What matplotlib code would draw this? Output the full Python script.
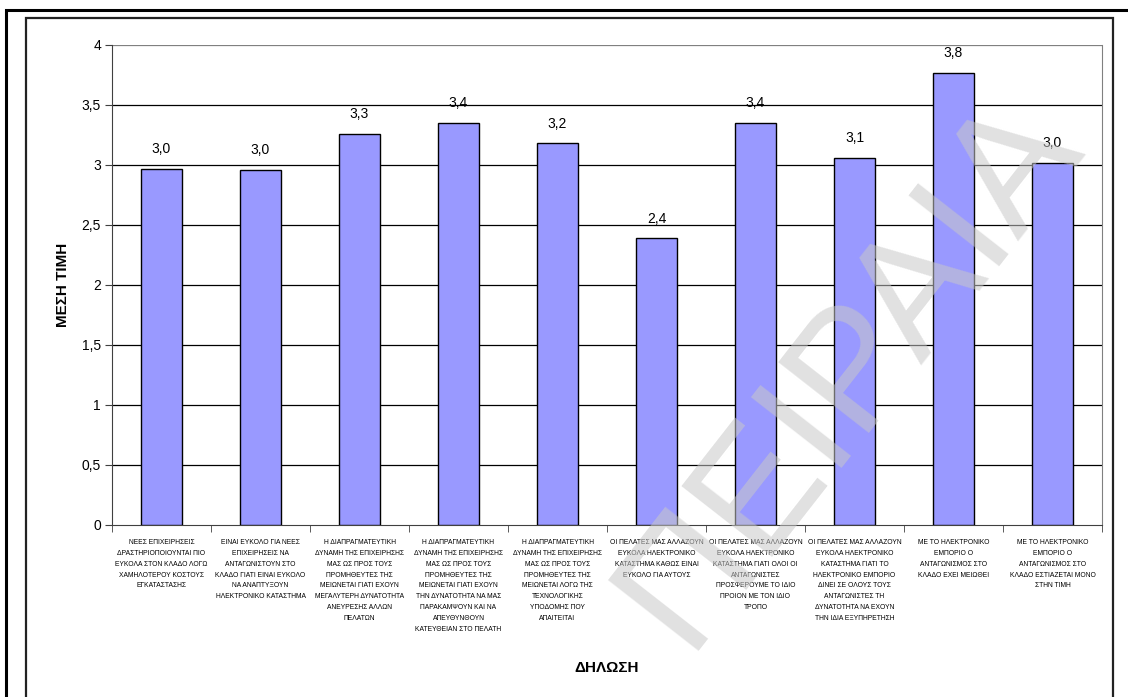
import matplotlib
matplotlib.use("Agg")
import matplotlib.pyplot as plt
from matplotlib.patches import Rectangle

plt.rcParams["font.family"] = ["Liberation Sans", "DejaVu Sans"]

# Survey statements (x axis) and their mean scores
statements = [
    "ΝΕΕΣ ΕΠΙΧΕΙΡΗΣΕΙΣ\nΔΡΑΣΤΗΡΙΟΠΟΙΟΥΝΤΑΙ ΠΙΟ\nΕΥΚΟΛΑ ΣΤΟΝ ΚΛΑΔΟ ΛΟΓΩ\nΧΑΜΗΛΟΤΕΡΟΥ ΚΟΣΤΟΥΣ\nΕΓΚΑΤΑΣΤΑΣΗΣ",
    "ΕΙΝΑΙ ΕΥΚΟΛΟ ΓΙΑ ΝΕΕΣ\nΕΠΙΧΕΙΡΗΣΕΙΣ ΝΑ\nΑΝΤΑΓΩΝΙΣΤΟΥΝ ΣΤΟ\nΚΛΑΔΟ ΓΙΑΤΙ ΕΙΝΑΙ ΕΥΚΟΛΟ\nΝΑ ΑΝΑΠΤΥΞΟΥΝ\nΗΛΕΚΤΡΟΝΙΚΟ ΚΑΤΑΣΤΗΜΑ",
    "Η ΔΙΑΠΡΑΓΜΑΤΕΥΤΙΚΗ\nΔΥΝΑΜΗ ΤΗΣ ΕΠΙΧΕΙΡΗΣΗΣ\nΜΑΣ ΩΣ ΠΡΟΣ ΤΟΥΣ\nΠΡΟΜΗΘΕΥΤΕΣ ΤΗΣ\nΜΕΙΩΝΕΤΑΙ ΓΙΑΤΙ ΕΧΟΥΝ\nΜΕΓΑΛΥΤΕΡΗ ΔΥΝΑΤΟΤΗΤΑ\nΑΝΕΥΡΕΣΗΣ ΑΛΛΩΝ\nΠΕΛΑΤΩΝ",
    "Η ΔΙΑΠΡΑΓΜΑΤΕΥΤΙΚΗ\nΔΥΝΑΜΗ ΤΗΣ ΕΠΙΧΕΙΡΗΣΗΣ\nΜΑΣ ΩΣ ΠΡΟΣ ΤΟΥΣ\nΠΡΟΜΗΘΕΥΤΕΣ ΤΗΣ\nΜΕΙΩΝΕΤΑΙ ΓΙΑΤΙ ΕΧΟΥΝ\nΤΗΝ ΔΥΝΑΤΟΤΗΤΑ ΝΑ ΜΑΣ\nΠΑΡΑΚΑΜΨΟΥΝ ΚΑΙ ΝΑ\nΑΠΕΥΘΥΝΘΟΥΝ\nΚΑΤΕΥΘΕΙΑΝ ΣΤΟ ΠΕΛΑΤΗ",
    "Η ΔΙΑΠΡΑΓΜΑΤΕΥΤΙΚΗ\nΔΥΝΑΜΗ ΤΗΣ ΕΠΙΧΕΙΡΗΣΗΣ\nΜΑΣ ΩΣ ΠΡΟΣ ΤΟΥΣ\nΠΡΟΜΗΘΕΥΤΕΣ ΤΗΣ\nΜΕΙΩΝΕΤΑΙ ΛΟΓΩ ΤΗΣ\nΤΕΧΝΟΛΟΓΙΚΗΣ\nΥΠΟΔΟΜΗΣ ΠΟΥ\nΑΠΑΙΤΕΙΤΑΙ",
    "ΟΙ ΠΕΛΑΤΕΣ ΜΑΣ ΑΛΛΑΖΟΥΝ\nΕΥΚΟΛΑ ΗΛΕΚΤΡΟΝΙΚΟ\nΚΑΤΑΣΤΗΜΑ ΚΑΘΩΣ ΕΙΝΑΙ\nΕΥΚΟΛΟ ΓΙΑ ΑΥΤΟΥΣ",
    "ΟΙ ΠΕΛΑΤΕΣ ΜΑΣ ΑΛΛΑΖΟΥΝ\nΕΥΚΟΛΑ ΗΛΕΚΤΡΟΝΙΚΟ\nΚΑΤΑΣΤΗΜΑ ΓΙΑΤΙ ΟΛΟΙ ΟΙ\nΑΝΤΑΓΩΝΙΣΤΕΣ\nΠΡΟΣΦΕΡΟΥΜΕ ΤΟ ΙΔΙΟ\nΠΡΟΙΟΝ ΜΕ ΤΟΝ ΙΔΙΟ\nΤΡΟΠΟ",
    "ΟΙ ΠΕΛΑΤΕΣ ΜΑΣ ΑΛΛΑΖΟΥΝ\nΕΥΚΟΛΑ ΗΛΕΚΤΡΟΝΙΚΟ\nΚΑΤΑΣΤΗΜΑ ΓΙΑΤΙ ΤΟ\nΗΛΕΚΤΡΟΝΙΚΟ ΕΜΠΟΡΙΟ\nΔΙΝΕΙ ΣΕ ΟΛΟΥΣ ΤΟΥΣ\nΑΝΤΑΓΩΝΙΣΤΕΣ ΤΗ\nΔΥΝΑΤΟΤΗΤΑ ΝΑ ΕΧΟΥΝ\nΤΗΝ ΙΔΙΑ ΕΞΥΠΗΡΕΤΗΣΗ",
    "ΜΕ ΤΟ ΗΛΕΚΤΡΟΝΙΚΟ\nΕΜΠΟΡΙΟ Ο\nΑΝΤΑΓΩΝΙΣΜΟΣ ΣΤΟ\nΚΛΑΔΟ ΕΧΕΙ ΜΕΙΩΘΕΙ",
    "ΜΕ ΤΟ ΗΛΕΚΤΡΟΝΙΚΟ\nΕΜΠΟΡΙΟ Ο\nΑΝΤΑΓΩΝΙΣΜΟΣ ΣΤΟ\nΚΛΑΔΟ ΕΣΤΙΑΖΕΤΑΙ ΜΟΝΟ\nΣΤΗΝ ΤΙΜΗ",
]
mean_scores = [2.97, 2.96, 3.26, 3.35, 3.18, 2.39, 3.35, 3.06, 3.77, 3.02]

y_ticks = [0, 0.5, 1, 1.5, 2, 2.5, 3, 3.5, 4]

W, H = 1128, 697
fig = plt.figure(figsize=(W / 100, H / 100), dpi=100)

# frames around the chart
fig.patches.append(Rectangle((6 / W, -0.05), 1.1, 1 - 10 / H + 0.05, transform=fig.transFigure,
                             fill=False, edgecolor="black", linewidth=2.2))
fig.patches.append(Rectangle((26 / W, -0.05), (1113 - 26) / W, 1 - 18 / H + 0.05,
                             transform=fig.transFigure, fill=False, edgecolor="#222222",
                             linewidth=1.6))

ax = fig.add_axes([112 / W, 1 - 525 / H, (1102 - 112) / W, (525 - 45) / H])

x = list(range(len(mean_scores)))
ax.bar(x, mean_scores, width=0.41, color="#9999ff", edgecolor="black", linewidth=1.0, zorder=3)

for xi, v in zip(x, mean_scores):
    ax.annotate(f"{v:.1f}".replace(".", ","), (xi, v), xytext=(0, 9), textcoords="offset points",
                ha="center", va="bottom", fontsize=10)

ax.set_xlim(-0.5, len(mean_scores) - 0.5)
ax.set_ylim(0, 4)
ax.set_yticks(y_ticks)
ax.set_yticklabels([f"{t:g}".replace(".", ",") for t in y_ticks], fontsize=10)
for t in y_ticks[1:]:
    ax.axhline(t, color="black" if t < 4 else "#808080", linewidth=0.9, zorder=1)

ax.set_xticks(x)
ax.set_xticklabels(statements, fontsize=4.9, linespacing=1.78, va="top")
ax.set_xticks([i - 0.5 for i in range(len(mean_scores) + 1)], minor=True)
ax.tick_params(axis="x", which="major", length=0, pad=10)
ax.tick_params(axis="x", which="minor", length=5, direction="out", color="#404040")
ax.tick_params(axis="y", length=5, direction="out", color="#404040", pad=3)

ax.spines["top"].set_visible(False)
ax.spines["right"].set_color("#808080")
ax.spines["left"].set_color("#404040")
ax.spines["bottom"].set_color("#404040")

ax.set_ylabel("ΜΕΣΗ ΤΙΜΗ", fontsize=11, fontweight="bold", labelpad=8)
fig.text(607 / W, 1 - 668 / H, "ΔΗΛΩΣΗ", fontsize=11, fontweight="bold", ha="center", va="center")

# faint diagonal watermark
fig.text(850 / W, 1 - 370 / H, "ΠΕΙΡΑΙΑ", fontsize=120, color="#c8c8c8", alpha=0.55,
         rotation=52, rotation_mode="anchor", ha="center", va="center", zorder=10)

fig.savefig("out.png", dpi=100)
